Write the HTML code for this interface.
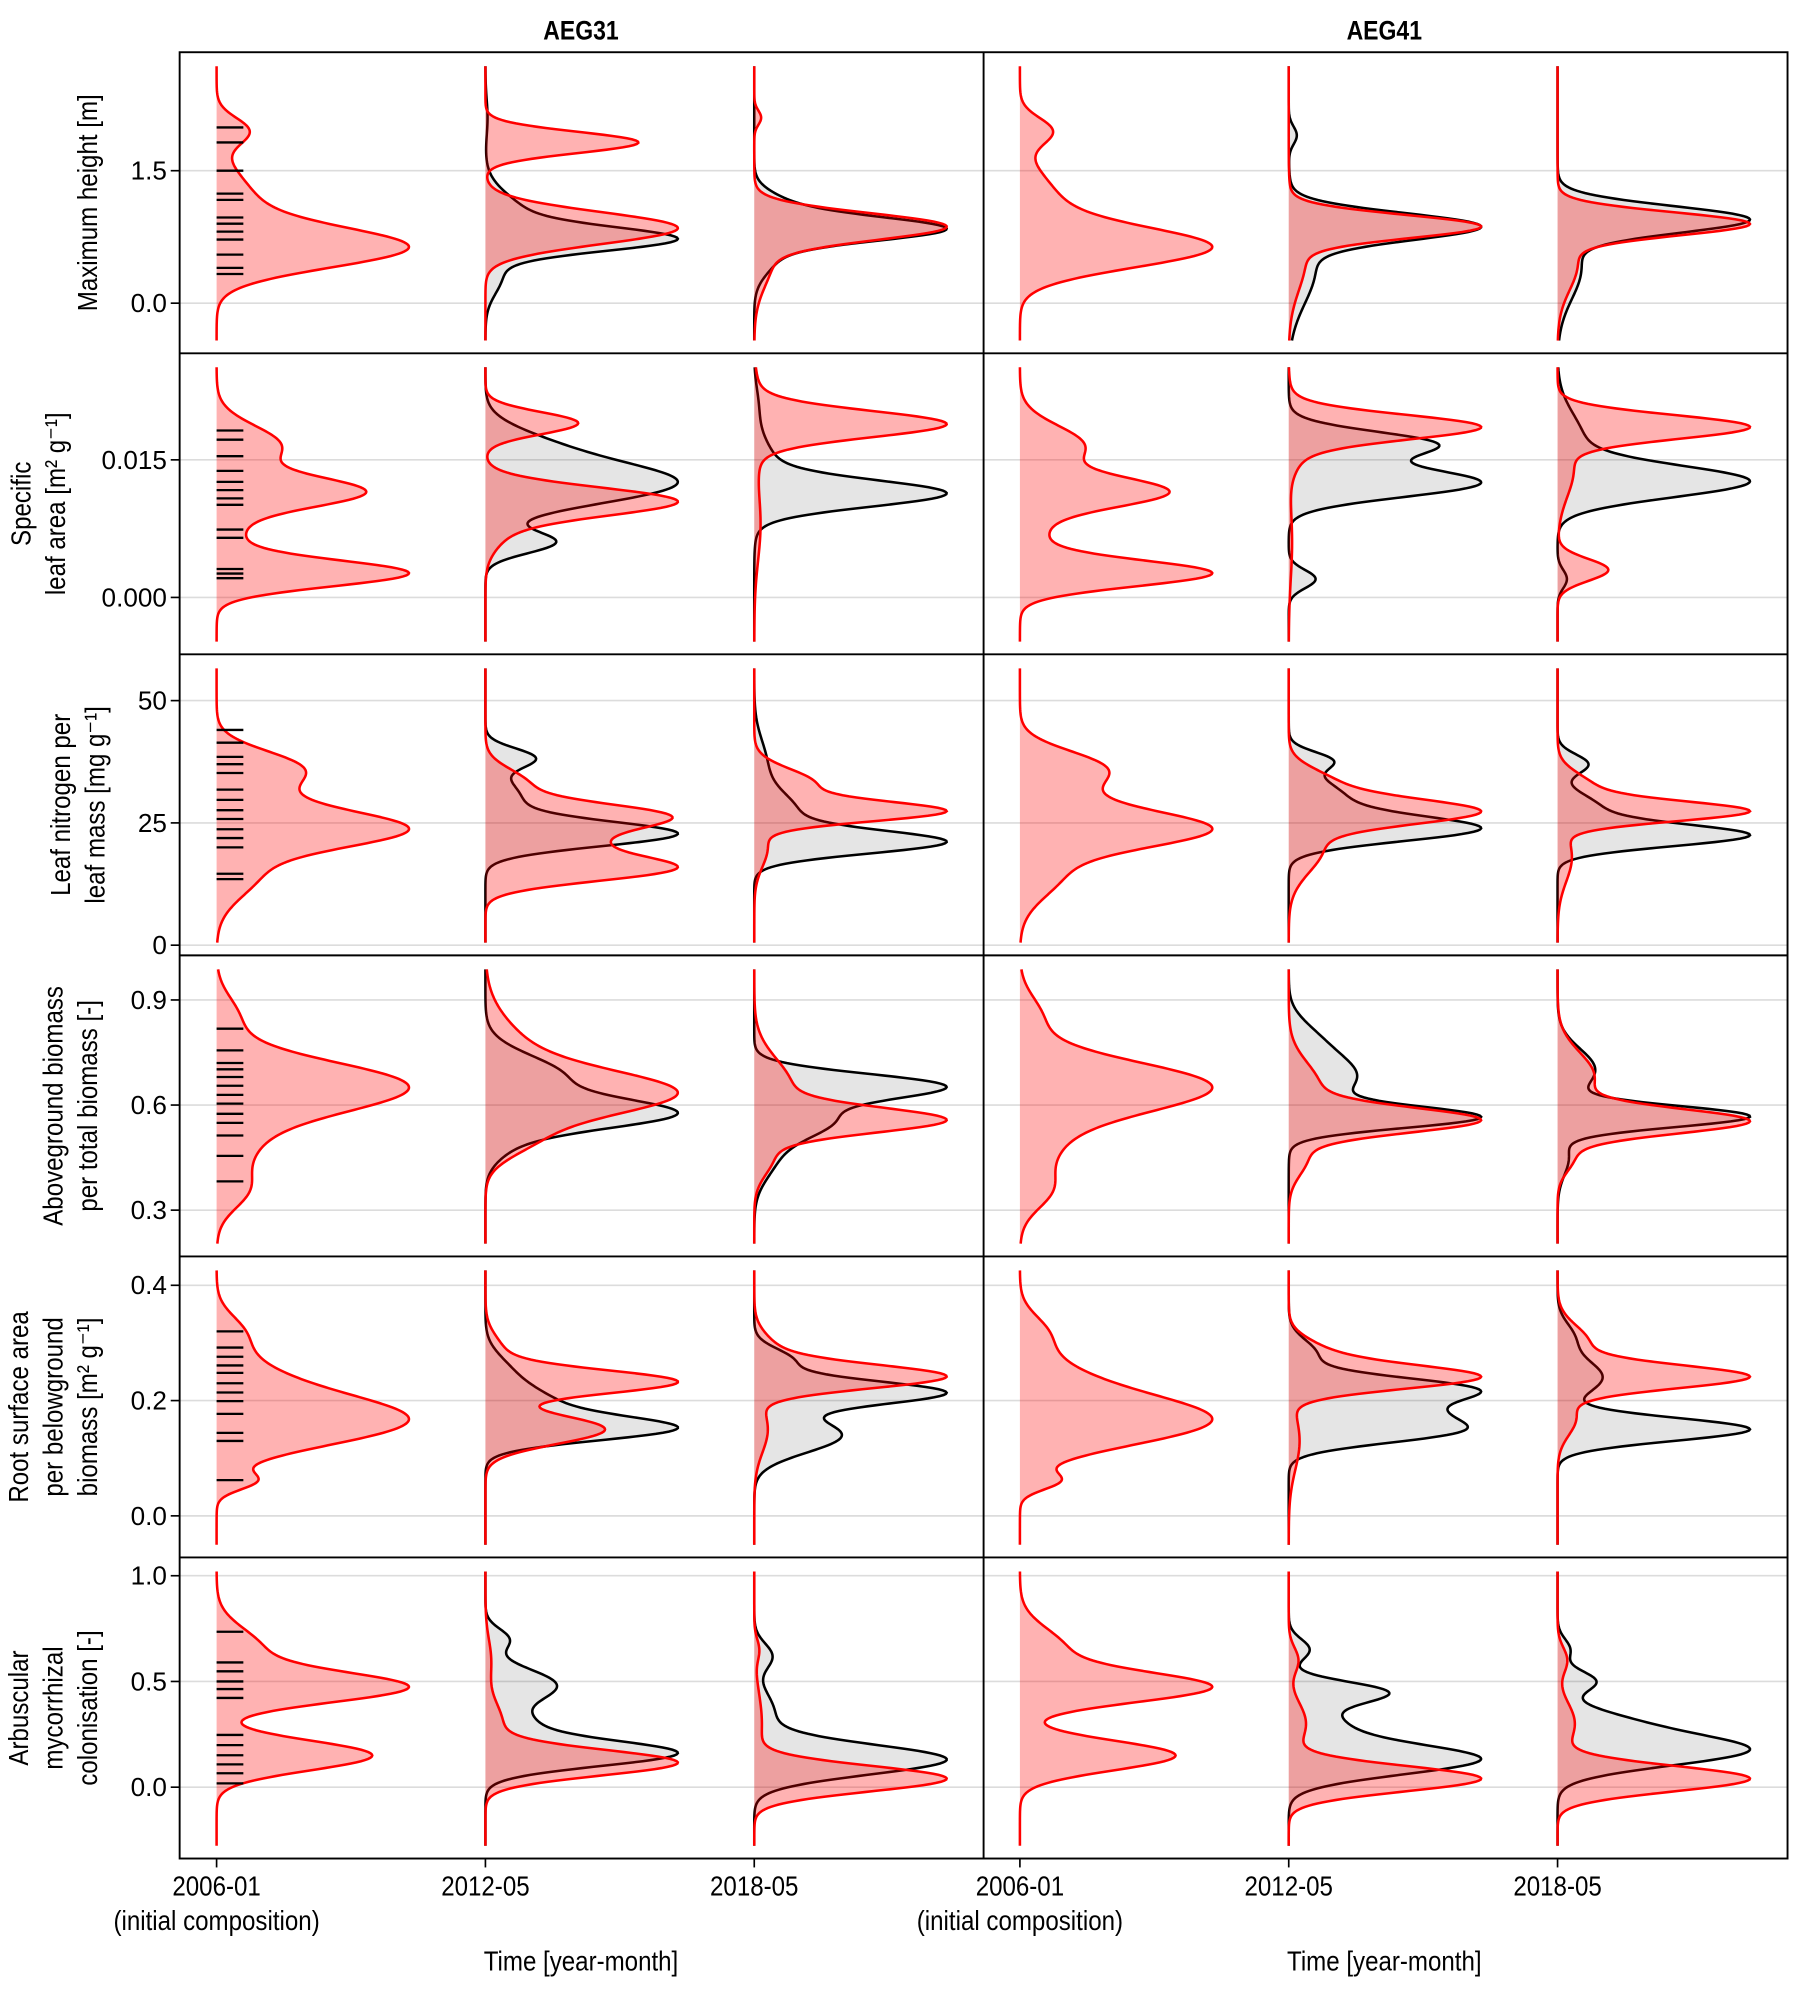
<!DOCTYPE html>
<html><head><meta charset="utf-8"><style>
html,body{margin:0;padding:0;background:#fff;}
svg{display:block;font-family:"Liberation Sans",Arial,sans-serif;}
</style></head><body>
<svg id="chart" width="1799" height="1991" viewBox="0 0 1412 1563" preserveAspectRatio="none" xmlns="http://www.w3.org/2000/svg">
<g id="grid"></g>
<g id="marks"></g>
<g id="frame"></g>
<g id="labels"></g>
</svg>
<script>
// ---------- data ----------
const colNames = ["AEG31", "AEG41"];
const timeLabels = ["2006-01", "2012-05", "2018-05"];
const rowLabels = [
  ["Maximum height [m]"],
  ["Specific", "leaf area [m² g⁻¹]"],
  ["Leaf nitrogen per", "leaf mass [mg g⁻¹]"],
  ["Aboveground biomass", "per total biomass [-]"],
  ["Root surface area", "per belowground", "biomass [m² g⁻¹]"],
  ["Arbuscular", "mycorrhizal", "colonisation [-]"]
];
const ticksHeight = [0.0, 1.5];
const ticksSLA = [0.000, 0.015];
const ticksLNC = [0, 25, 50];
const ticksABR = [0.3, 0.6, 0.9];
const ticksRSA = [0.0, 0.2, 0.4];
const ticksAMC = [0.0, 0.5, 1.0];
const tickDecimals = [1, 3, 0, 1, 1, 1];

// rug values (initial composition, AEG31)
const rugHeight = [1.99,1.82,1.5,1.24,1.17,0.97,0.9,0.81,0.72,0.55,0.4,0.33];
const rugSLA = [0.0182,0.0172,0.0154,0.0138,0.0126,0.0117,0.0108,0.0101,0.0074,0.0065,0.0031,0.0026,0.0021];
const rugLNC = [44,41.4,38.5,37,35.2,31.8,29.7,27.6,25.8,23.7,21.9,20,14.6,13.5];
const rugABR = [0.818,0.756,0.72,0.702,0.68,0.655,0.629,0.604,0.575,0.549,0.513,0.455,0.382];
const rugRSA = [0.32,0.292,0.276,0.261,0.248,0.23,0.214,0.199,0.177,0.144,0.13,0.062];
const rugAMC = [0.735,0.59,0.548,0.5,0.464,0.422,0.247,0.199,0.151,0.108,0.066,0.018];

// density components [mean, sd, weight]
const init06H = [[0.62,0.22,1],[1.1,0.35,0.35],[1.95,0.15,0.12]];
const height_AEG31_red = [init06H, [[0.85,0.18,1],[1.82,0.12,0.53]], [[0.87,0.15,1],[0.5,0.3,0.2],[2.1,0.08,0.02]]];
const height_AEG31_black = [null, [[0.72,0.13,1],[0.95,0.25,0.5],[0.3,0.2,0.15],[2.1,0.2,0.02]], [[0.84,0.13,1],[0.55,0.2,0.2],[1.1,0.15,0.2]]];
const height_AEG41_red = [init06H, [[0.87,0.13,1],[0.5,0.35,0.25]], [[0.9,0.13,1],[0.45,0.3,0.25]]];
const height_AEG41_black = [null, [[0.87,0.15,1],[0.4,0.4,0.4],[1.9,0.1,0.03]], [[0.95,0.15,1],[0.4,0.35,0.3]]];

const init06S = [[0.0026,0.0014,1],[0.0115,0.0016,0.85],[0.0165,0.0022,0.55],[0.007,0.003,0.3]];
const sla_AEG31_red = [init06S, [[0.0105,0.0015,1],[0.019,0.0012,0.4],[0.0075,0.002,0.15]], [[0.0189,0.0014,1],[0.019,0.003,0.15],[0.008,0.004,0.1]]];
const sla_AEG31_black = [null, [[0.0124,0.0022,1],[0.006,0.0012,0.2],[0.0165,0.002,0.25]], [[0.0113,0.0014,1],[0.0135,0.003,0.3],[0.021,0.002,0.03]]];
const sla_AEG41_red = [init06S, [[0.0186,0.0013,1],[0.0175,0.0025,0.25],[0.006,0.004,0.06]], [[0.0186,0.0013,1],[0.003,0.0012,0.25],[0.014,0.003,0.2]]];
const sla_AEG41_black = [null, [[0.0124,0.0015,1],[0.0168,0.0013,0.55],[0.002,0.001,0.1],[0.0155,0.002,0.3]], [[0.0126,0.0017,1],[0.017,0.003,0.25],[0.002,0.001,0.03]]];

const init06N = [[23.5,3.5,1],[36.5,3.5,0.45],[15,5,0.4],[29,5,0.5]];
const lnc_AEG31_red = [init06N, [[26.5,2.5,1],[15.5,2.5,1.05],[21,3,0.7],[33,3,0.3]], [[27.3,2,1],[33,3,0.5],[20,4,0.15]]];
const lnc_AEG31_black = [null, [[22.7,2.5,1],[38.3,2,0.2],[30,4,0.3]], [[21,2.3,1],[27,4,0.4],[37,5,0.15]]];
const lnc_AEG41_red = [init06N, [[27.3,2.5,1],[20,5,0.4],[33,3,0.3]], [[27.3,2,1],[32,3,0.3],[18,5,0.2]]];
const lnc_AEG41_black = [null, [[23.7,2.5,1],[30,4,0.5],[37.8,1.8,0.15]], [[22.4,2.2,1],[28,3,0.3],[37,2,0.15]]];

const init06A = [[0.655,0.07,1],[0.5,0.1,0.3],[0.35,0.05,0.08],[0.85,0.06,0.1]];
const abr_AEG31_red = [init06A, [[0.63,0.06,1],[0.72,0.1,0.5],[0.5,0.05,0.2]], [[0.556,0.035,1],[0.65,0.08,0.5],[0.45,0.05,0.15]]];
const abr_AEG31_black = [null, [[0.575,0.04,1],[0.68,0.06,0.7],[0.5,0.05,0.2]], [[0.655,0.035,1],[0.56,0.05,0.6],[0.45,0.06,0.2]]];
const abr_AEG41_red = [init06A, [[0.556,0.035,1],[0.65,0.07,0.35],[0.45,0.05,0.15]], [[0.553,0.035,1],[0.68,0.07,0.4],[0.45,0.04,0.1]]];
const abr_AEG41_black = [null, [[0.564,0.03,1],[0.68,0.07,0.9],[0.8,0.05,0.15]], [[0.567,0.03,1],[0.7,0.06,0.4],[0.45,0.05,0.1]]];

const init06R = [[0.16,0.04,1],[0.22,0.05,0.5],[0.06,0.015,0.08],[0.32,0.03,0.1]];
const rsa_AEG31_red = [init06R, [[0.232,0.02,1],[0.15,0.025,0.8],[0.28,0.03,0.15]], [[0.241,0.02,1],[0.28,0.03,0.2],[0.15,0.04,0.15]]];
const rsa_AEG31_black = [null, [[0.15,0.02,1],[0.19,0.03,0.6],[0.25,0.03,0.2]], [[0.214,0.02,1],[0.14,0.03,0.7],[0.27,0.02,0.2]]];
const rsa_AEG41_red = [init06R, [[0.24,0.02,1],[0.28,0.025,0.25],[0.13,0.05,0.15]], [[0.241,0.02,1],[0.3,0.03,0.25],[0.17,0.03,0.15]]];
const rsa_AEG41_black = [null, [[0.22,0.02,1],[0.145,0.02,0.85],[0.18,0.02,0.6],[0.28,0.025,0.2]], [[0.15,0.02,1],[0.24,0.03,0.35],[0.31,0.025,0.1]]];

const init06M = [[0.47,0.07,1],[0.15,0.07,0.85],[0.65,0.1,0.35]];
const amc_AEG31_red = [init06M, [[0.115,0.06,1],[0.3,0.1,0.15],[0.6,0.1,0.05]], [[0.04,0.06,1],[0.3,0.15,0.1],[0.65,0.05,0.02]]];
const amc_AEG31_black = [null, [[0.16,0.06,1],[0.48,0.08,0.5],[0.3,0.06,0.2],[0.7,0.05,0.1]], [[0.13,0.07,1],[0.35,0.1,0.15],[0.62,0.06,0.08]]];
const amc_AEG41_red = [init06M, [[0.04,0.06,1],[0.3,0.1,0.15],[0.6,0.06,0.05]], [[0.04,0.06,1],[0.3,0.1,0.15],[0.6,0.06,0.05]]];
const amc_AEG41_black = [null, [[0.13,0.07,1],[0.45,0.05,0.35],[0.3,0.08,0.3],[0.65,0.05,0.08]], [[0.17,0.07,1],[0.3,0.07,0.35],[0.5,0.05,0.15],[0.65,0.05,0.05]]];

// ---------- layout ----------
const NS = "http://www.w3.org/2000/svg";
const L = 141, R = 1403, T = 41, B = 1459, MID = 772;
const rowH = (B - T) / 6;
const violinX = [170, 381, 592];
const colShift = 630.5;
const maxW = 151;
const titleLastX = [76, 51, 82, 76, 76, 76];
const anchors = [
  [0, 238, 1.5, 134], [0, 469, 0.015, 361], [0, 742, 50, 550],
  [0.3, 950, 0.9, 785], [0, 1190, 0.4, 1009], [0, 1403, 1, 1237]
];
const allTicks = [ticksHeight, ticksSLA, ticksLNC, ticksABR, ticksRSA, ticksAMC];
const allRugs = [rugHeight, rugSLA, rugLNC, rugABR, rugRSA, rugAMC];
const redSets = [[height_AEG31_red, height_AEG41_red],[sla_AEG31_red, sla_AEG41_red],[lnc_AEG31_red, lnc_AEG41_red],[abr_AEG31_red, abr_AEG41_red],[rsa_AEG31_red, rsa_AEG41_red],[amc_AEG31_red, amc_AEG41_red]];
const blackSets = [[height_AEG31_black, height_AEG41_black],[sla_AEG31_black, sla_AEG41_black],[lnc_AEG31_black, lnc_AEG41_black],[abr_AEG31_black, abr_AEG41_black],[rsa_AEG31_black, rsa_AEG41_black],[amc_AEG31_black, amc_AEG41_black]];

function yScale(r, v) { const a = anchors[r]; return a[1] + (v - a[0]) * (a[3] - a[1]) / (a[2] - a[0]); }
function yInv(r, p) { const a = anchors[r]; return a[0] + (p - a[1]) * (a[2] - a[0]) / (a[3] - a[1]); }
function el(tag, attrs, parent) { const e = document.createElementNS(NS, tag); for (const k in attrs) e.setAttribute(k, attrs[k]); parent.appendChild(e); return e; }
function dens(mix, v) { let s = 0; for (const c of mix) s += c[2] / c[1] * Math.exp(-0.5 * ((v - c[0]) / c[1]) ** 2); return s; }
function condense(t, f) { const w = t.getComputedTextLength(); if (w > 0) { t.setAttribute("textLength", (w * f).toFixed(1)); t.setAttribute("lengthAdjust", "spacingAndGlyphs"); } }

const gGrid = document.getElementById("grid"), gMarks = document.getElementById("marks"), gFrame = document.getElementById("frame"), gLab = document.getElementById("labels");

function violin(r, mix, x0, isRed, name) {
  const top = T + r * rowH + 11, bot = T + (r + 1) * rowH - 10;
  const N = 240, pts = [];
  let mx = 0;
  for (let i = 0; i <= N; i++) { const p = top + (bot - top) * i / N; const d = dens(mix, yInv(r, p)); pts.push([p, d]); if (d > mx) mx = d; }
  let line = "";
  pts.forEach((q, i) => { line += (i ? "L" : "M") + (x0 + maxW * q[1] / mx).toFixed(2) + "," + q[0].toFixed(2); });
  const fill = el("path", { d: "M" + x0 + "," + top + line.replace(/^M/, "L") + "L" + x0 + "," + bot + "Z", fill: isRed ? "rgba(255,0,0,0.3)" : "rgba(0,0,0,0.1)", stroke: "none" }, gMarks);
  
  
  const ln = el("path", { d: line, fill: "none", stroke: isRed ? "#ff0000" : "#000", "stroke-width": 2 }, gMarks);
  
  
}

for (let r = 0; r < 6; r++) {
  allTicks[r].forEach(t => {
    const y = yScale(r, t);
    const g = el("line", { x1: L, x2: R, y1: y, y2: y, stroke: "#dcdcdc", "stroke-width": 1.3 }, gGrid);
    
    
    const tk = el("line", { x1: L - 7, x2: L, y1: y, y2: y, stroke: "#000", "stroke-width": 1.3 }, gFrame);
    
    
    const tl = el("text", { x: L - 10, y: y + 7, "text-anchor": "end", "font-size": 20.5 }, gLab);
    tl.textContent = t.toFixed(tickDecimals[r]);
    
    
  });
  const lines = rowLabels[r];
  const cy = T + r * rowH + rowH / 2;
  const lh = 27;
  lines.forEach((s, i) => {
    const x = titleLastX[r] - (lines.length - 1 - i) * lh;
    const t = el("text", { x: x, y: cy, "text-anchor": "middle", "font-size": 22, transform: "rotate(-90 " + x + " " + cy + ")" }, gLab);
    t.textContent = s;
    
    
    condense(t, 0.86);
  });
  for (let c = 0; c < 2; c++) {
    for (let k = 0; k < 3; k++) {
      const x0 = violinX[k] + c * colShift;
      const bm = blackSets[r][c][k];
      if (bm) violin(r, bm, x0, false, 'violin-' + colNames[c] + '-' + timeLabels[k] + '-black');
      violin(r, redSets[r][c][k], x0, true, 'violin-' + colNames[c] + '-' + timeLabels[k] + '-red');
    }
  }
  allRugs[r].forEach(v => {
    const y = yScale(r, v);
    const rl = el("line", { x1: 170, x2: 191, y1: y, y2: y, stroke: "#000", "stroke-width": 1.8 }, gMarks);
    
    
  });
}
Array.from(gMarks.querySelectorAll('path[stroke="#ff0000"]')).forEach(p => gMarks.appendChild(p));
Array.from(gMarks.querySelectorAll('line')).forEach(p => gMarks.appendChild(p));

const fr = el("rect", { x: L, y: T, width: R - L, height: B - T, fill: "none", stroke: "#000", "stroke-width": 1.5 }, gFrame);


const vm = el("line", { x1: MID, x2: MID, y1: T, y2: B, stroke: "#000", "stroke-width": 1.5 }, gFrame);


for (let r = 1; r < 6; r++) {
  const y = T + r * rowH;
  const d = el("line", { x1: L, x2: R, y1: y, y2: y, stroke: "#000", "stroke-width": 1.5 }, gFrame);
  
  
}
for (let c = 0; c < 2; c++) {
  const ct = el("text", { x: 456 + c * colShift, y: 31, "text-anchor": "middle", "font-size": 21, "font-weight": "bold" }, gLab);
  ct.textContent = colNames[c];
  
  
  condense(ct, 0.86);
  violinX.forEach((vx, k) => {
    const x = vx + c * colShift;
    const tk = el("line", { x1: x, x2: x, y1: B, y2: B + 7, stroke: "#000", "stroke-width": 1.3 }, gFrame);
    
    
    const tl = el("text", { x: x, y: B + 29, "text-anchor": "middle", "font-size": 22 }, gLab);
    tl.textContent = timeLabels[k];
    
    
    condense(tl, 0.86);
    if (k === 0) {
      const t2 = el("text", { x: x, y: B + 56, "text-anchor": "middle", "font-size": 22 }, gLab);
      t2.textContent = "(initial composition)";
      
      
      condense(t2, 0.86);
    }
  });
  const xt = el("text", { x: 456 + c * colShift, y: B + 88, "text-anchor": "middle", "font-size": 22 }, gLab);
  xt.textContent = "Time [year-month]";
  
  
  condense(xt, 0.86);
}
</script>
</body></html>
